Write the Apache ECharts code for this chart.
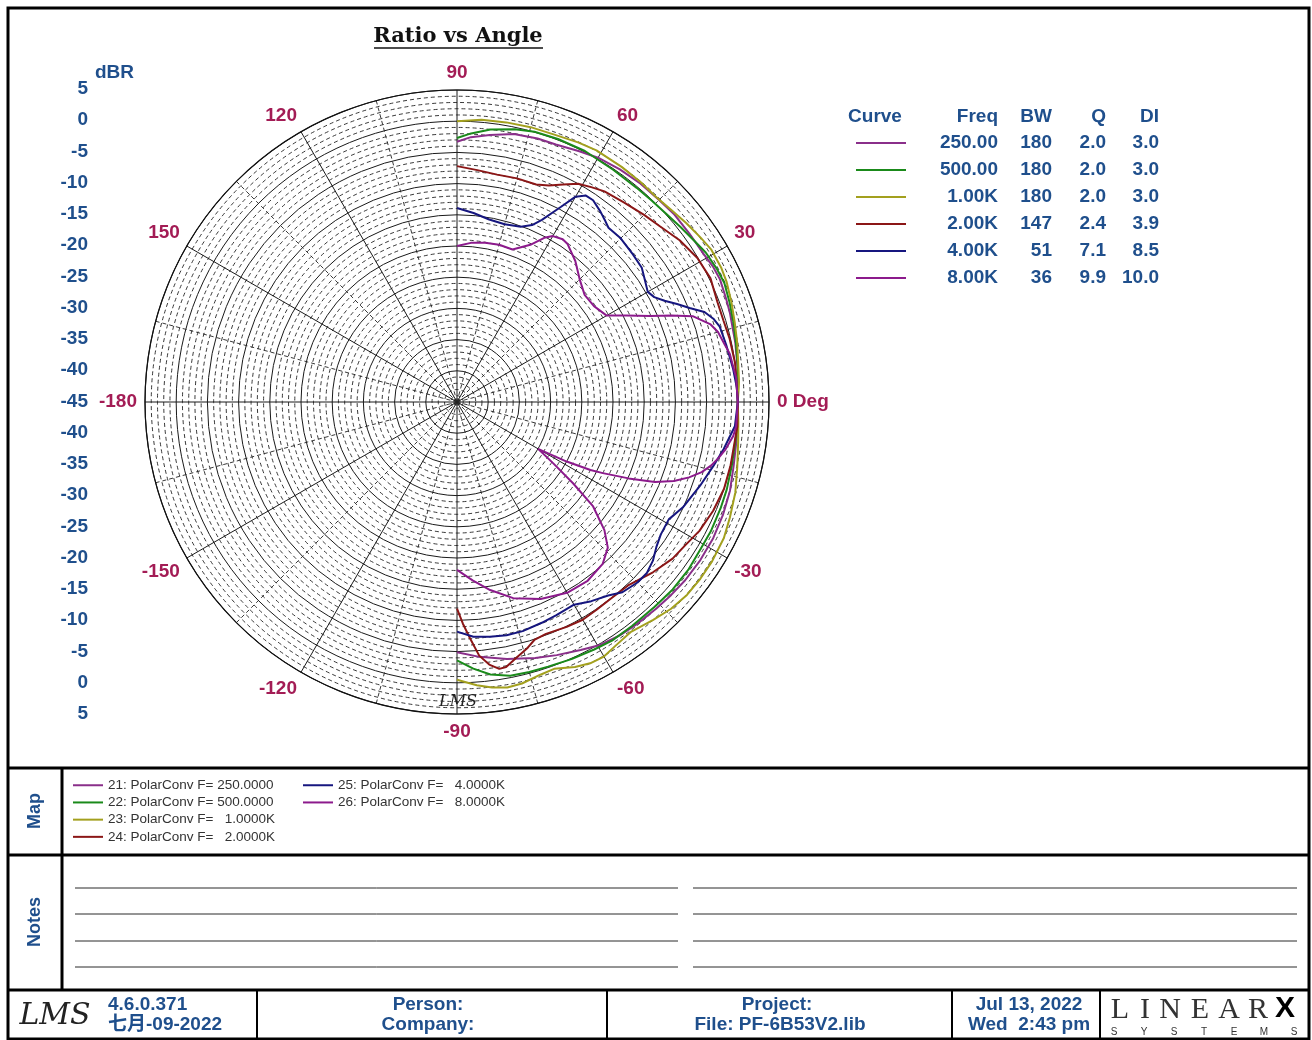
<!DOCTYPE html>
<html><head><meta charset="utf-8">
<script src="https://cdn.jsdelivr.net/npm/echarts@6/dist/echarts.min.js"></script>
<style>html,body{margin:0;padding:0;background:#fff}#c{width:1312px;height:1040px}</style>
</head><body><div id="c"></div>
<script>
// ---------- data ----------
const mapNames = ['21: PolarConv F= 250.0000','22: PolarConv F= 500.0000','23: PolarConv F=   1.0000K','24: PolarConv F=   2.0000K','25: PolarConv F=   4.0000K','26: PolarConv F=   8.0000K'];
const tblFreq = ['250.00','500.00','1.00K','2.00K','4.00K','8.00K'];
const tblBW = ['180','180','180','147','51','36'];
const tblQ = ['2.0','2.0','2.0','2.4','7.1','9.9'];
const tblDI = ['3.0','3.0','3.0','3.9','8.5','10.0'];
const curveColors = ['#8a2f8a','#1a8a1a','#a3a01e','#8b1616','#16167f','#8c1a8c'];

const ang250 = [90,87,83,78,73,69,64,60,55,50,45,41,36,31,28,25,21,18,12,7,3,0,-3,-7,-13,-18,-23,-28,-33,-38,-42,-46,-51,-55,-59.5,-63.5,-68.5,-73,-79,-85,-90];
const db250  = [-3.3,-2.5,-1.9,-1.1,-0.85,-0.8,-0.3,0.2,0.5,0.7,0.8,1.0,1.0,1.1,1.4,1.5,1.2,1.0,0.6,0.3,0.1,0,0.1,0.2,0.5,1.0,1.3,1.5,1.5,1.4,1.2,1.0,0.8,0.6,0.2,-0.6,-1.4,-2.1,-3.05,-4.0,-4.9];
const ang500 = [90,87,83,78,74,69,63,56,50,46,42,38,34,31,27,24,20,16,12,8,4,0,-5,-13,-18,-22,-27,-31,-36,-41,-46,-52,-57,-61,-66,-71,-75,-79,-83,-86.5,-90];
const db500  = [-2.7,-1.9,-1.0,-0.3,0.05,0.15,0.15,-0.15,-0.2,-0.1,0.1,0.5,1.0,1.5,1.8,1.9,1.5,1.1,0.7,0.4,0.2,0,0.1,0.2,0.45,0.55,0.65,0.6,0.8,0.8,0.6,0.55,0.6,0.35,0.1,-0.15,-0.2,-0.3,-1.0,-2.2,-3.6];
const ang1k  = [90,85,80,75,70,65,61,55,50,46,42,38,34,31,27,24,20,16,12,8,4,0,-4,-8,-13,-18,-23,-27,-32,-36,-40,-44,-48,-53,-57,-60,-63,-66,-70,-73,-77,-80,-83,-86,-90];
const db1k   = [0.0,0.4,0.5,0.6,0.6,0.9,1.1,1.0,0.9,0.8,1.1,1.6,2.1,2.5,2.5,2.3,1.8,1.3,0.9,0.5,0.3,0,0.2,0.5,1.1,1.9,2.5,3.0,3.2,3.2,3.1,2.7,2.0,1.2,1.6,2.1,2.0,1.5,0.5,0.7,1.3,1.45,1.1,0.5,-0.5];
const ang2k  = [90,85,80,75,70,67,64,61,58,55,50,45,41,36,31,26,21,17,13,8,0,-5,-13,-18,-23,-28,-32,-36,-41,-47,-52,-56,-60,-64,-69,-72,-74,-77,-79.5,-81,-83,-85,-87,-88.5,-90];
const db2k   = [-7.2,-7.7,-8.0,-7.9,-7.9,-7.3,-6.2,-5.0,-4.4,-3.8,-3.3,-2.6,-2.0,-0.9,-0.1,0.2,-0.3,-0.35,-0.15,0,0,0.1,0,0,-0.4,-1.0,-1.8,-2.3,-3.4,-4.8,-5.0,-4.9,-4.7,-4.9,-5.2,-4.9,-4.0,-2.9,-1.8,-1.7,-2.6,-4.2,-7.3,-9.5,-11.9];
const ang4k  = [90,85,80,75,70,67,65,62,60,58,56,53,51,49,45,40,36,33,30,28,26,24,22,20,18,16,12,7,3,0,-5,-10,-14,-19,-25,-29,-33,-36,-39,-42,-45,-49,-52,-56,-60,-65,-69,-74,-78,-82,-86,-90];
const db4k   = [-13.9,-14.6,-15.3,-15.5,-15.1,-14.2,-12.8,-9.6,-7.0,-6.0,-6.0,-6.8,-7.4,-8.0,-7.9,-8.2,-8.4,-9.1,-9.7,-9.2,-8.0,-6.4,-4.8,-2.8,-1.8,-1.2,-0.9,-0.45,-0.1,0,-0.3,-1.6,-2.65,-3.8,-5.05,-6.2,-6.05,-5.5,-4.6,-4.05,-4.1,-4.6,-5.65,-6.5,-7.5,-7.3,-7.1,-6.8,-6.8,-7.0,-7.3,-8.2];
const ang8k  = [90,85,80,75,70,65,62,60,57,55,50,45,40,35,30,27,24,22,20,17,15,12,10,5,0,-5,-7,-10,-12,-14,-16,-18,-20,-22,-24,-26,-27,-28.5,-30,-32.5,-35,-37.5,-41,-44,-48,-54,-60,-67,-74,-80,-85,-90];
const db8k   = [-20.0,-19.4,-19.1,-18.9,-19.0,-17.2,-15.2,-14.3,-13.9,-14.1,-15.5,-17.2,-18.3,-18.2,-17.3,-14.5,-11.1,-8.0,-4.8,-2.5,-1.7,-1.1,-0.6,-0.1,0,-0.1,-0.4,-1.3,-2.1,-3.0,-4.2,-5.9,-8.0,-10.8,-14.9,-19.0,-21.0,-25.0,-30.0,-26.7,-22.3,-17.5,-13.7,-11.4,-10.1,-9.5,-9.7,-10.7,-12.3,-14.4,-16.3,-18.1];

const curveAngles = [ang250, ang500, ang1k, ang2k, ang4k, ang8k];
const curveDb = [db250, db500, db1k, db2k, db4k, db8k];

// ---------- styling ----------
const NAVY = '#1f4f8c';
const CRIMSON = '#a31c55';
const SANS = "'Liberation Sans', Arial, 'Noto Sans CJK SC', sans-serif";
const SERIF = "'DejaVu Serif', 'Liberation Serif', serif";

const chart = echarts.init(document.getElementById('c'), null, {renderer: 'canvas'});

const series = curveAngles.map((angs, k) => ({
  type: 'line', coordinateSystem: 'polar', name: mapNames[k],
  data: angs.map((a, i) => [curveDb[k][i], a]),
  showSymbol: false, symbol: 'none', smooth: false,
  lineStyle: {color: curveColors[k], width: 2},
  itemStyle: {color: curveColors[k]},
  emphasis: {disabled: true}, z: 3
}));

const g = [];
function txt(x, y, text, font, fill, align, valign, extra) {
  g.push(Object.assign({type: 'text', x: x, y: y, silent: true,
    style: {text: text, font: font, fill: fill, align: align || 'left', verticalAlign: valign || 'middle'}}, extra || {}));
}
function ln(x1, y1, x2, y2, stroke, w) {
  g.push({type: 'line', silent: true, shape: {x1: x1, y1: y1, x2: x2, y2: y2}, style: {stroke: stroke, lineWidth: w}});
}

// frame
g.push({type: 'rect', silent: true, shape: {x: 8, y: 8, width: 1301, height: 1031}, style: {fill: 'none', stroke: '#000', lineWidth: 3}});
ln(8, 768, 1309, 768, '#000', 3);
ln(8, 855, 1309, 855, '#000', 3);
ln(8, 990, 1309, 990, '#000', 3);
ln(62, 768, 62, 990, '#000', 3);
[257, 607, 952, 1100].forEach(x => ln(x, 990, x, 1040, '#000', 2));

// title
txt(458, 37, 'Ratio vs Angle', 'bold 21px ' + SERIF, '#111', 'center', 'middle');
ln(374, 48, 543, 48, '#111', 1.3);

// table on the right
const TF = 'bold 19px ' + SANS;
txt(875, 117, 'Curve', TF, NAVY, 'center');
txt(998, 117, 'Freq', TF, NAVY, 'right');
txt(1052, 117, 'BW', TF, NAVY, 'right');
txt(1106, 117, 'Q', TF, NAVY, 'right');
txt(1159, 117, 'DI', TF, NAVY, 'right');
tblFreq.forEach((f, i) => {
  const y = 143 + 27 * i;
  ln(856, y, 906, y, curveColors[i], 2);
  txt(998, y, f, TF, NAVY, 'right');
  txt(1052, y, tblBW[i], TF, NAVY, 'right');
  txt(1106, y, tblQ[i], TF, NAVY, 'right');
  txt(1159, y, tblDI[i], TF, NAVY, 'right');
});

// LMS watermark in plot
txt(458, 702, 'LMS', 'italic 16px ' + SERIF, '#222', 'center');

// Map / Notes side labels
txt(35, 811, 'Map', 'bold 18px ' + SANS, NAVY, 'center', 'middle', {rotation: Math.PI / 2});
txt(35, 922, 'Notes', 'bold 18px ' + SANS, NAVY, 'center', 'middle', {rotation: Math.PI / 2});
[888, 914, 941, 967].forEach(y => { ln(75, y, 678, y, '#2a2a2a', 1); ln(693, y, 1297, y, '#2a2a2a', 1); });

// footer
const FF = 'bold 19px ' + SANS;
txt(55, 1016, 'LMS', 'italic 30px ' + SERIF, '#222', 'center');
txt(108, 1005, '4.6.0.371', FF, NAVY, 'left');
txt(108, 1025, '七月-09-2022', FF, NAVY, 'left');
txt(428, 1005, 'Person:', FF, NAVY, 'center');
txt(428, 1025, 'Company:', FF, NAVY, 'center');
txt(777, 1005, 'Project:', FF, NAVY, 'center');
txt(780, 1025, 'File: PF-6B53V2.lib', FF, NAVY, 'center');
txt(1029, 1005, 'Jul 13, 2022', FF, NAVY, 'center');
txt(1029, 1025, 'Wed  2:43 pm', FF, NAVY, 'center');
const logoL = ['L','I','N','E','A','R'];
const logoX = [1120, 1145, 1170, 1200, 1229, 1258];
logoL.forEach((c, i) => txt(logoX[i], 1010, c, '30px ' + "'Liberation Serif', serif", '#333', 'center'));
txt(1285, 1009, 'X', 'bold 30px ' + SANS, '#000', 'center');
const logoS = ['S','Y','S','T','E','M','S'];
logoS.forEach((c, i) => txt(1114 + i * 30, 1032, c, '10px ' + SANS, '#333', 'center'));

const legendBase = {orient: 'vertical', icon: 'rect', itemWidth: 30, itemHeight: 2, itemGap: 0.7, padding: 0,
  selectedMode: false, textStyle: {fontSize: 13.5, color: '#333', lineHeight: 16.5, fontFamily: SANS}};

const option = {
  animation: false,
  backgroundColor: '#fff',
  polar: {center: [457, 402], radius: 312},
  angleAxis: {
    type: 'value', min: -180, max: 180, interval: 30, startAngle: 180, clockwise: false,
    axisLine: {show: true, lineStyle: {color: '#111', width: 1.2}},
    axisTick: {show: false},
    minorTick: {show: false, splitNumber: 2},
    axisLabel: {show: true, margin: 8, color: CRIMSON, fontWeight: 'bold', fontSize: 19, fontFamily: SANS,
      formatter: v => v === 180 ? '' : (v === 0 ? '0 Deg' : String(v))},
    splitLine: {show: true, lineStyle: {color: '#1a1a1a', width: 1}},
    minorSplitLine: {show: true, lineStyle: {color: '#222', width: 0.9, type: [4, 3]}}
  },
  radiusAxis: {
    type: 'value', min: -45, max: 5, interval: 5,
    axisLine: {show: false}, axisTick: {show: false}, axisLabel: {show: false},
    minorTick: {show: false, splitNumber: 5},
    splitLine: {show: true, lineStyle: {color: '#1a1a1a', width: 1}},
    minorSplitLine: {show: true, lineStyle: {color: '#222', width: 0.9, type: [4, 3]}}
  },
  grid: {left: 92, top: 89, width: 10, height: 625, show: false},
  xAxis: {type: 'value', show: false, min: 0, max: 1},
  yAxis: {
    type: 'value', min: -50, max: 50, interval: 5,
    axisLine: {show: false}, axisTick: {show: false}, splitLine: {show: false},
    axisLabel: {margin: 4, color: NAVY, fontWeight: 'bold', fontSize: 19, fontFamily: SANS,
      formatter: v => String(Math.abs(v) - 45)},
    name: 'dBR', nameLocation: 'end', nameGap: 7,
    nameTextStyle: {color: NAVY, fontWeight: 'bold', fontSize: 19, fontFamily: SANS, align: 'left', verticalAlign: 'bottom', padding: [0, 0, 0, 3]}
  },
  legend: [
    Object.assign({left: 73, top: 777, data: mapNames.slice(0, 4)}, legendBase),
    Object.assign({left: 303, top: 777, data: mapNames.slice(4)}, legendBase)
  ],
  graphic: g,
  series: series
};
chart.setOption(option);
</script></body></html>
